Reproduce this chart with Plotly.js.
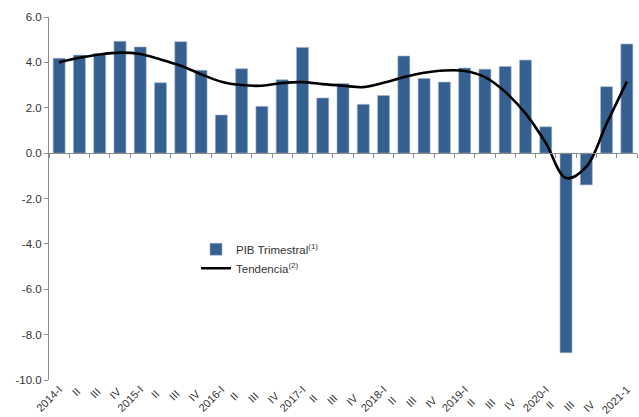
<!DOCTYPE html>
<html>
<head>
<meta charset="utf-8">
<script src="https://cdn.plot.ly/plotly-3.0.1.min.js"></script>
<style>html,body{margin:0;padding:0;background:#fff;}#chart{width:639px;height:417px;}</style>
</head>
<body>
<div id="chart"></div>
<script>
const categories = ["2014-I","II ","III ","IV ","2015-I","II  ","III  ","IV  ","2016-I","II   ","III   ","IV   ","2017-I","II    ","III    ","IV    ","2018-I","II     ","III     ","IV     ","2019-I","II      ","III      ","IV      ","2020-I","II       ","III       ","IV       ","2021-1"];
const pibTrimestral = [4.18,4.32,4.38,4.93,4.68,3.10,4.91,3.65,1.68,3.72,2.06,3.23,4.66,2.43,3.07,2.15,2.54,4.28,3.29,3.13,3.75,3.70,3.82,4.10,1.16,-8.8,-1.40,2.93,4.81];
const tendencia = [4.0,4.2,4.35,4.43,4.37,4.13,3.85,3.48,3.15,3.0,2.97,3.09,3.13,3.04,2.97,2.91,3.1,3.35,3.54,3.64,3.62,3.35,2.7,1.75,0.45,-1.1,-0.6,1.3,3.15];
const yTicks = [6,4,2,0,-2,-4,-6,-8,-10];

const traces = [
  {type:'bar', x:categories, y:pibTrimestral, xaxis:'x', yaxis:'y',
   name:'PIB Trimestral<sup>(1)</sup>',
   marker:{color:'#35608f', line:{color:'#9fb3cf', width:0.6}}},
  {type:'scatter', mode:'lines', x:categories, y:tendencia, xaxis:'x2', yaxis:'y',
   name:'Tendencia<sup>(2)</sup>',
   line:{color:'#000000', width:2.6, shape:'spline', smoothing:1}}
];

const layout = {
  width:639, height:417,
  margin:{l:49, r:2, t:17, b:37},
  paper_bgcolor:'#fff', plot_bgcolor:'#fff',
  font:{family:'"Liberation Sans", Arial, sans-serif', size:11.5, color:'#333'},
  bargap:0.41,
  showlegend:true,
  legend:{x:0.25, y:0.40, xanchor:'left', yanchor:'top', bgcolor:'rgba(0,0,0,0)',
          font:{size:11.5, color:'#333'}, tracegroupgap:0, itemwidth:30},
  xaxis:{type:'category', anchor:'free', position:0.625, showline:true, linecolor:'#8c8c8c', linewidth:1,
         ticks:'outside', ticklen:4, tickcolor:'#8c8c8c', tickson:'boundaries',
         showticklabels:false, showgrid:false, zeroline:false, fixedrange:true},
  xaxis2:{type:'category', overlaying:'x', matches:'x', anchor:'y', side:'bottom',
          showline:false, ticks:'', showticklabels:true, tickangle:-45, showgrid:false, zeroline:false,
          tickfont:{size:11, color:'#333'}},
  yaxis:{range:[-10,6], tickvals:yTicks, ticktext:yTicks.map(v=>v.toFixed(1)),
         showline:true, linecolor:'#8c8c8c', linewidth:1, ticks:'outside', ticklen:4, tickcolor:'#8c8c8c',
         showgrid:false, zeroline:false, tickfont:{size:11.5, color:'#333'}}
};

Plotly.newPlot('chart', traces, layout, {displayModeBar:false, staticPlot:true});
</script>
</body>
</html>
